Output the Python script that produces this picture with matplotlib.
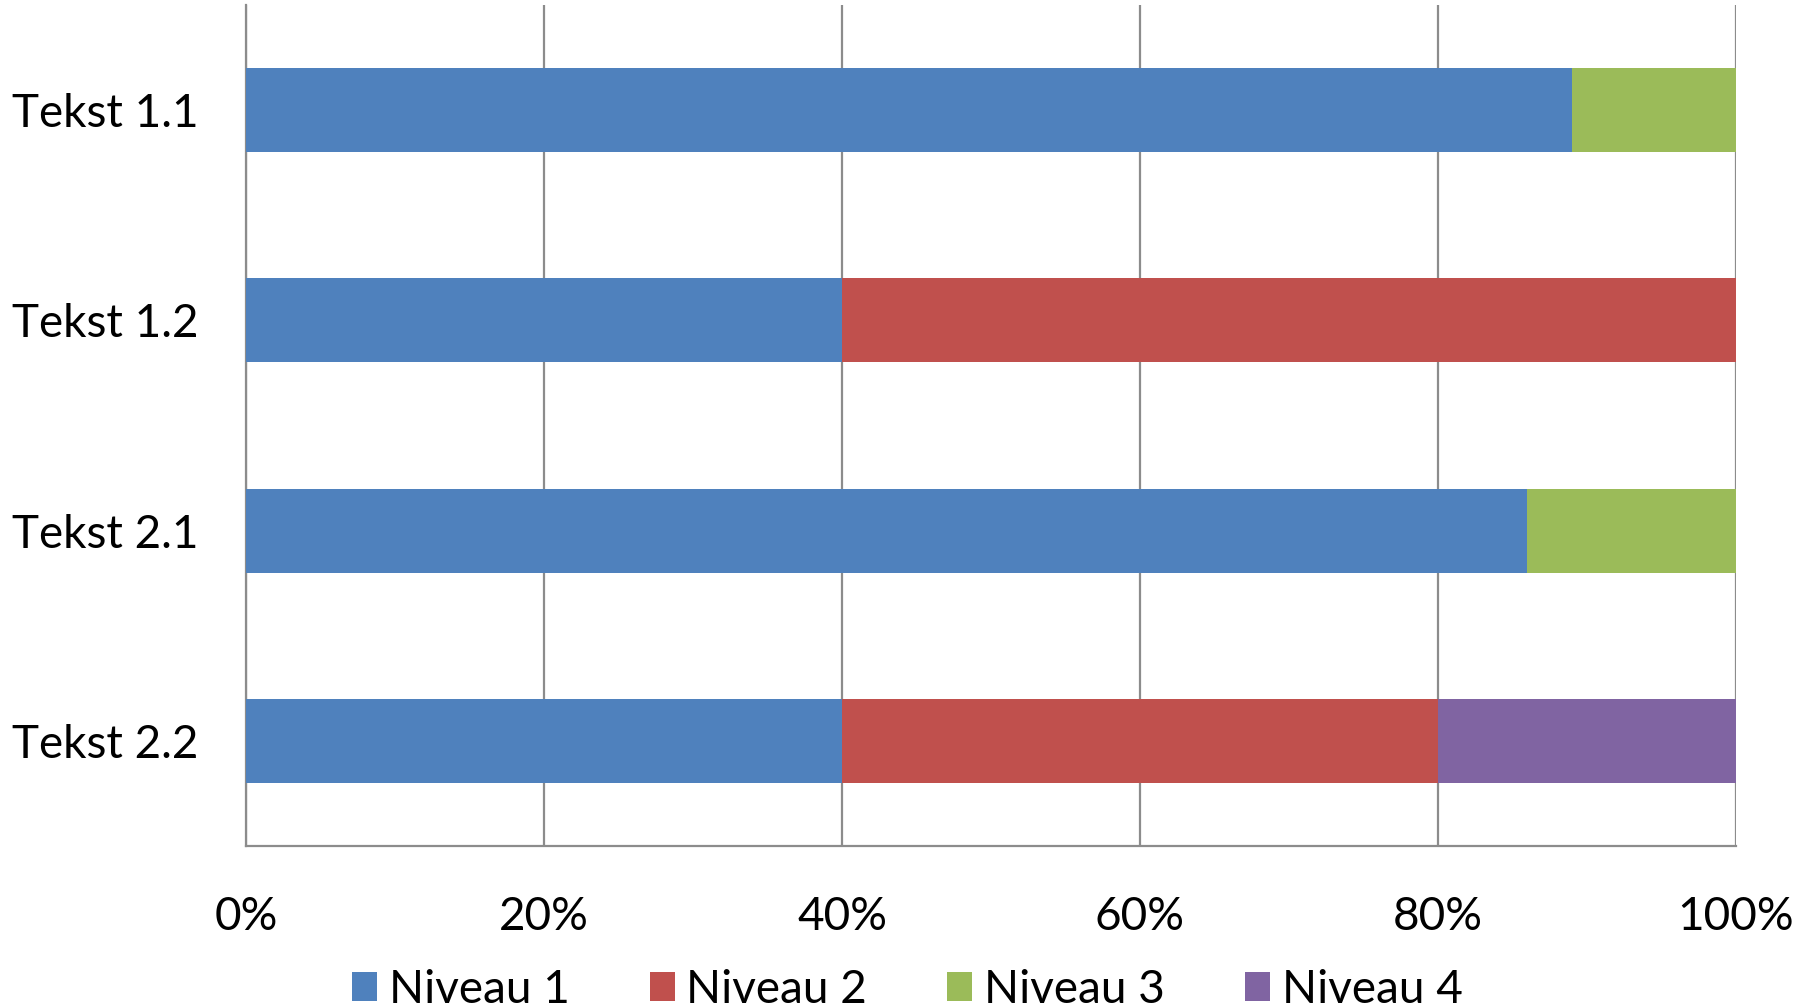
import numpy as np
from matplotlib import pyplot as plt
from matplotlib.ticker import FuncFormatter

CATEGORIES = ["Tekst 1.1", "Tekst 1.2", "Tekst 2.1", "Tekst 2.2"]
SERIES = ["Niveau 1", "Niveau 2", "Niveau 3", "Niveau 4"]

# share per level, in percent
NIVEAU_1 = [89, 40, 86, 40]
NIVEAU_2 = [0, 60, 0, 40]
NIVEAU_3 = [11, 0, 14, 0]
NIVEAU_4 = [0, 0, 0, 20]

X_TICKS = [0, 20, 40, 60, 80, 100]

COLORS = ["#4F81BD", "#C0504D", "#9BBB59", "#8064A2"]
GRID_COLOR = "#8C8C8C"
FONT_SIZE = 33

plt.rcParams["font.family"] = ["Lato", "DejaVu Sans"]


def draw_chart() -> None:
    fig = plt.figure(figsize=(18.18, 10.08), dpi=100)
    ax = fig.add_axes([0.1353, 0.1607, 0.8196, 0.8343])

    values = [NIVEAU_1, NIVEAU_2, NIVEAU_3, NIVEAU_4]
    y = np.arange(len(CATEGORIES))
    left = np.zeros(len(CATEGORIES))
    for name, vals, color in zip(SERIES, values, COLORS):
        vals = np.array(vals, dtype=float) / 100
        ax.barh(y, vals, left=left, height=0.4, color=color, label=name, zorder=3)
        left += vals

    ax.set_ylim(len(CATEGORIES) - 0.5, -0.5)
    ax.set_xlim(0, 1)
    ax.set_yticks(y)
    ax.set_yticklabels(CATEGORIES, fontsize=FONT_SIZE)
    ax.set_xticks([t / 100 for t in X_TICKS])
    ax.xaxis.set_major_formatter(FuncFormatter(lambda v, _: f"{v * 100:.0f}%"))
    ax.tick_params(axis="x", labelsize=FONT_SIZE, length=0, pad=36)
    ax.tick_params(axis="y", length=0, pad=34)

    ax.grid(True, axis="x", color=GRID_COLOR, linewidth=1.6, zorder=0)
    for side in ["top", "right"]:
        ax.spines[side].set_visible(False)
    for side in ["left", "bottom"]:
        ax.spines[side].set_color(GRID_COLOR)
        ax.spines[side].set_linewidth(1.6)

    fig.legend(
        loc="lower center",
        bbox_to_anchor=(0.499, -0.044),
        ncol=4,
        frameon=False,
        fontsize=FONT_SIZE,
        handlelength=0.55,
        handleheight=0.6,
        handletextpad=0.25,
        columnspacing=1.75,
    )

    fig.savefig("out.png", dpi=100)
    plt.close()


def main() -> None:
    draw_chart()


if __name__ == "__main__":
    main()
